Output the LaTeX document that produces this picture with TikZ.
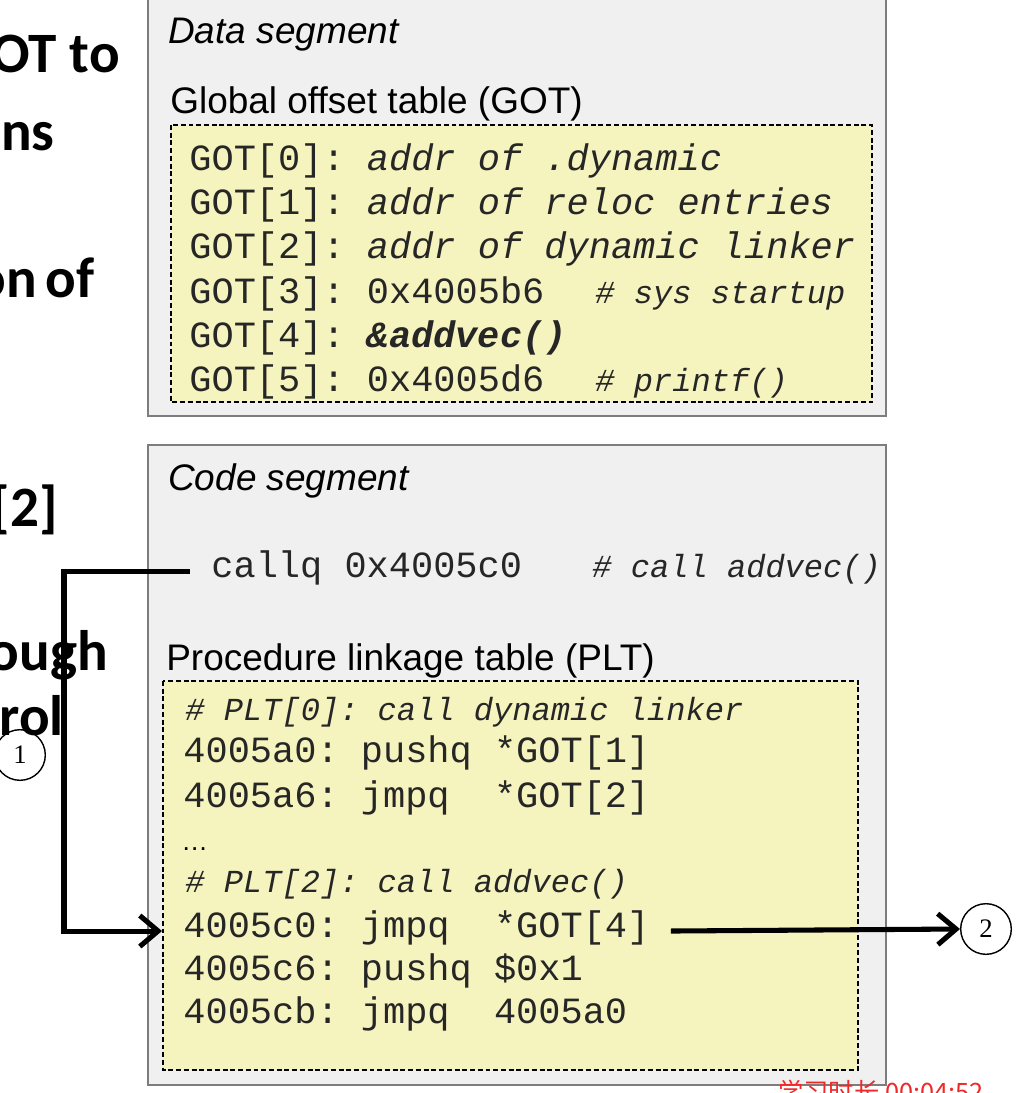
\documentclass[tikz,border=0pt]{standalone}
\usepackage{fontspec}
\setmainfont{Liberation Sans}
\setmonofont{Liberation Mono}
\newfontfamily\slidefont{Carlito}
\newfontfamily\numfont{Liberation Serif}
\newfontfamily\cjkfont{Noto Sans CJK SC}
\usetikzlibrary{arrows.meta}
\definecolor{seggray}{RGB}{240,240,240}
\definecolor{segedge}{RGB}{125,125,125}
\definecolor{tableyellow}{RGB}{246,244,190}
\definecolor{stampred}{RGB}{240,40,40}
\begin{document}
\begin{tikzpicture}[x=0.025cm, y=-0.025cm,
  segbox/.style={fill=seggray, draw=segedge, line width=1pt},
  tablebox/.style={fill=tableyellow, draw=black, line width=0.9pt, dash pattern=on 3.5pt off 2pt},
  title/.style={anchor=base west, inner sep=0pt, font=\fontsize{26.3}{30}\selectfont},
  code/.style={anchor=base west, inner xsep=15pt, inner ysep=0pt, text height=14pt, text depth=5.5pt,
    text=black!85, font=\ttfamily\fontsize{26.3}{30}\selectfont},
  comment/.style={code, font=\ttfamily\itshape\fontsize{22.8}{26}\selectfont},
  slide/.style={anchor=base east, inner sep=0pt, font=\slidefont\bfseries\fontsize{40.6}{46}\selectfont},
  marker/.style={circle, draw, line width=1pt, minimum size=36pt, inner sep=0pt, font=\numfont\fontsize{19}{19}\selectfont},
  flow/.style={line width=3.6pt, -{Straight Barb[length=13pt, width=22pt, line width=3.6pt]}}]
\useasboundingbox (0,0) rectangle (1017,1093);
\clip (0,0) rectangle (1017,1093);

% slide text cut off on the left
\node[slide] (w1) at (120,72) {OT to};
\node[slide] (w2) at (55,150) {ns};
\node[slide] (w3) at (95,297) {on\hspace{-3pt} of};
\node[slide] (w4) at (58,526) {[2]};
\node[slide] (w5) at (108,670) {ough};
\node[slide] (w6) at (64,735) {trol};

% data segment
\draw[segbox] (148,-10) rectangle (886,416);
\node[title] (dataseg) at (168,43) {\itshape Data segment};
\node[title] (gottitle) at (170,113) {Global offset table (GOT)};
\draw[tablebox] (171,125) rectangle (872,402);
\node[code] (got0) at (168,170) {GOT[0]: \textit{addr of .dynamic}};
\node[code] (got1) at (168,214) {GOT[1]: \textit{addr of reloc entries}};
\node[code] (got2) at (168,258) {GOT[2]: \textit{addr of dynamic linker}};
\node[code] (got3) at (168,303) {GOT[3]: 0x4005b6};
\node[comment] (got3c) at (574,303) {\# sys startup};
\node[code] (got4) at (168,347) {GOT[4]: \textbf{\textit{\&addvec()}}};
\node[code] (got5) at (168,391) {GOT[5]: 0x4005d6};
\node[comment] (got5c) at (574,391) {\# printf()};

% code segment
\draw[segbox] (148,445) rectangle (886,1085);
\node[title] (codeseg) at (168,490) {\itshape Code segment};
\node[code] (callq) at (190,577) {callq 0x4005c0};
\node[comment] (callqc) at (571,577) {\# call addvec()};
\node[title] (plttitle) at (166,670) {Procedure linkage table (PLT)};
\draw[tablebox] (163,681) rectangle (858,1070);
\node[comment] (plt0c) at (164,720) {\# PLT[0]: call dynamic linker};
\node[code] (plt0a) at (162,762) {4005a0: pushq *GOT[1]};
\node[code] (plt0b) at (162,807) {4005a6: jmpq\ \ *GOT[2]};
\node[anchor=base west, inner sep=0pt, font=\fontsize{19}{19}\selectfont] (dots) at (181,850) {\dots};
\node[comment] (plt2c) at (164,892) {\# PLT[2]: call addvec()};
\node[code] (plt2a) at (162,937) {4005c0: jmpq\ \ *GOT[4]};
\node[code] (plt2b) at (162,980) {4005c6: pushq \$0x1};
\node[code] (plt2c2) at (162,1023) {4005cb: jmpq\ \ 4005a0};

% control flow
\node[marker] (m1) at (20,755) {1};
\node[marker] (m2) at (986,929) {2};
\coordinate (drop) at (64,0);
\draw[flow] (callq.west) -- (callq.west -| drop) |- (plt2a.west);
\draw[flow] (plt2a.east) -- (m2.west);

\node[anchor=base west, inner sep=0pt, text=stampred, font=\cjkfont\fontsize{18}{18}\selectfont] (stamp) at (778,1101) {学习时长\ 00:04:52};
\end{tikzpicture}
\end{document}
